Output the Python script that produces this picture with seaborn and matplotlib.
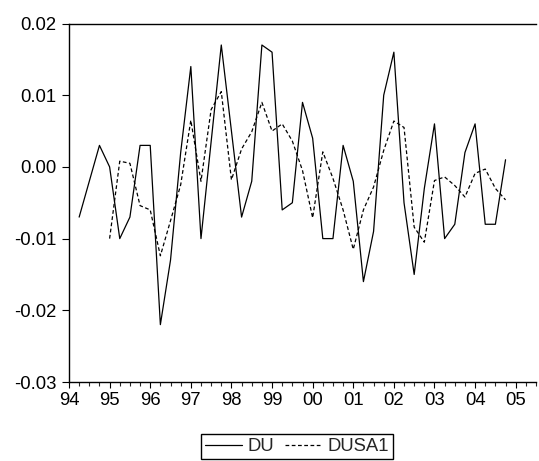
import numpy as np
import pandas as pd
import matplotlib
matplotlib.use("Agg")
import matplotlib.pyplot as plt
import seaborn as sns
from matplotlib.ticker import FixedLocator, FuncFormatter

# ---- data (quarterly) ----
du_start = "1994Q2"
du = [-0.007, -0.002, 0.003, 0.000, -0.010, -0.007, 0.003, 0.003, -0.022, -0.013,
      0.002, 0.014, -0.010, 0.0035, 0.017, 0.005, -0.007, -0.002, 0.017, 0.016,
      -0.006, -0.005, 0.009, 0.004, -0.010, -0.010, 0.003, -0.002, -0.016, -0.009,
      0.010, 0.016, -0.005, -0.015, -0.003, 0.006, -0.010, -0.008, 0.002, 0.006,
      -0.008, -0.008, 0.001]
dusa1_start = "1995Q1"
dusa1 = [-0.010, 0.0008, 0.0005, -0.0054, -0.006, -0.0124, -0.0075, -0.0025, 0.0065, -0.002,
         0.008, 0.0105, -0.0018, 0.0025, 0.0049, 0.009, 0.005, 0.006, 0.0036, -0.0005,
         -0.0071, 0.0021, -0.0016, -0.006, -0.0115, -0.006, -0.0028, 0.0023, 0.0064, 0.0055,
         -0.0084, -0.0105, -0.0019, -0.0014, -0.0026, -0.0042, -0.0009, -0.0003, -0.003, -0.0046]
year_ticks = list(range(1994, 2006))
year_labels = ["94", "95", "96", "97", "98", "99", "00", "01", "02", "03", "04", "05"]
y_ticks = [-0.03, -0.02, -0.01, 0.00, 0.01, 0.02]
y_labels = ["-0.03", "-0.02", "-0.01", "0.00", "0.01", "0.02"]


def to_decimal(start, n):
    p = pd.period_range(start, periods=n, freq="Q")
    return p.year + (p.quarter - 1) / 4.0


df_du = pd.DataFrame({"t": to_decimal(du_start, len(du)), "value": du})
df_sa = pd.DataFrame({"t": to_decimal(dusa1_start, len(dusa1)), "value": dusa1})

sns.set_style("ticks")
plt.rcParams["font.family"] = ["Liberation Sans", "DejaVu Sans"]
plt.rcParams["axes.unicode_minus"] = False

fig = plt.figure(figsize=(5.39, 4.61), dpi=100)
ax = fig.add_axes([69 / 539, 1 - 382 / 461, (536 - 69) / 539, (382 - 23.5) / 461])

sns.lineplot(data=df_du, x="t", y="value", ax=ax, color="black", linewidth=0.9,
             label="DU")
sns.lineplot(data=df_sa, x="t", y="value", ax=ax, color="black", linewidth=0.9,
             linestyle=(0, (3, 2)), label="DUSA1")

ax.set_xlim(1994.0, 2005.5)
ax.set_ylim(-0.03, 0.02)
ax.set_xlabel("")
ax.set_ylabel("")

ax.xaxis.set_major_locator(FixedLocator(year_ticks))
ax.set_xticklabels(year_labels)
ax.xaxis.set_minor_locator(FixedLocator(np.arange(1994.0, 2005.51, 0.25)))
ax.set_yticks(y_ticks)
ax.set_yticklabels(y_labels)

fs = 13.3
ax.tick_params(axis="x", which="major", direction="out", length=4.5, width=0.8,
               pad=3.0, labelsize=fs, colors="black")
ax.tick_params(axis="x", which="minor", direction="out", length=3.0, width=0.8)
ax.tick_params(axis="y", which="major", direction="out", length=4.7, width=0.8,
               pad=4.5, labelsize=fs, colors="black")

for side in ["left", "top", "bottom"]:
    ax.spines[side].set_visible(True)
    ax.spines[side].set_color("black")
    ax.spines[side].set_linewidth(1.0)
ax.spines["right"].set_visible(False)

handles, labels = ax.get_legend_handles_labels()
ax.get_legend().remove()
leg = fig.legend(handles, labels, loc="center", bbox_to_anchor=(297 / 539, 1 - 446.5 / 461),
                 ncol=2, fontsize=fs, frameon=True, fancybox=False, shadow=False,
                 handlelength=2.0, handletextpad=0.3, columnspacing=0.6,
                 borderpad=0.2, borderaxespad=0.0)
leg.get_frame().set_edgecolor("black")
leg.get_frame().set_linewidth(1.0)
leg.get_frame().set_alpha(1.0)

fig.savefig("out.png", dpi=100)
